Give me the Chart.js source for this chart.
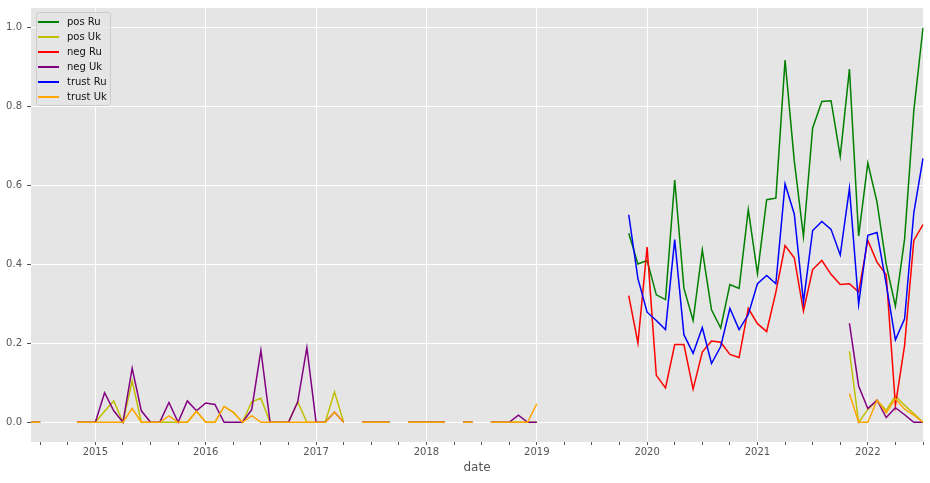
<!DOCTYPE html>
<html>
<head>
<meta charset="utf-8">
<script src="https://cdn.jsdelivr.net/npm/chart.js@4.4.1/dist/chart.umd.min.js"></script>
<style>
    body { margin: 0; background: #fff; }
    #wrap { position: relative; width: 930px; height: 483px; }
    #legenda {
        position: absolute; left: 36px; top: 12px; width: 75px; height: 94px;
        box-sizing: border-box; padding: 1px 0;
        background: rgba(229, 229, 229, 0.8); border: 1px solid #cccccc; border-radius: 3px;
    }
    .item { height: 15px; display: flex; align-items: center; }
    .item .traco { display: block; width: 21px; height: 0; border-top: 2px solid; margin-left: 1px; margin-right: 8px; }
    .item .nome { font: 10px "DejaVu Sans", sans-serif; color: #111; white-space: nowrap; }
</style>
</head>
<body>
<div id="wrap">
    <canvas id="grafico" width="930" height="483"></canvas>
    <div id="legenda"></div>
</div>
<script>
// meses de 2014-06 a 2022-07
const meses = [
    "2014-06", "2014-07", "2014-08", "2014-09", "2014-10", "2014-11", "2014-12",
    "2015-01", "2015-02", "2015-03", "2015-04", "2015-05", "2015-06", "2015-07", "2015-08", "2015-09", "2015-10", "2015-11", "2015-12",
    "2016-01", "2016-02", "2016-03", "2016-04", "2016-05", "2016-06", "2016-07", "2016-08", "2016-09", "2016-10", "2016-11", "2016-12",
    "2017-01", "2017-02", "2017-03", "2017-04", "2017-05", "2017-06", "2017-07", "2017-08", "2017-09", "2017-10", "2017-11", "2017-12",
    "2018-01", "2018-02", "2018-03", "2018-04", "2018-05", "2018-06", "2018-07", "2018-08", "2018-09", "2018-10", "2018-11", "2018-12",
    "2019-01", "2019-02", "2019-03", "2019-04", "2019-05", "2019-06", "2019-07", "2019-08", "2019-09", "2019-10", "2019-11", "2019-12",
    "2020-01", "2020-02", "2020-03", "2020-04", "2020-05", "2020-06", "2020-07", "2020-08", "2020-09", "2020-10", "2020-11", "2020-12",
    "2021-01", "2021-02", "2021-03", "2021-04", "2021-05", "2021-06", "2021-07", "2021-08", "2021-09", "2021-10", "2021-11", "2021-12",
    "2022-01", "2022-02", "2022-03", "2022-04", "2022-05", "2022-06", "2022-07"
];

const ticksY = [0, 0.2, 0.4, 0.6, 0.8, 1.0];

// Uk: 2014-06 ate 2019-01
const posUkInicio = [
    0, 0, null, null, null, 0, 0,
    0, 0.028, 0.054, 0, 0.105, 0, 0, 0, 0, 0, 0, 0.028,
    0, 0, 0.04, 0.025, 0, 0.052, 0.061, 0, 0, 0, 0.052, 0,
    0, 0, 0.077, 0, null, 0, 0, 0, 0, null, 0, 0,
    0, 0, 0, null, 0, 0, null, 0, 0, 0, 0, 0,
    0
];
const negUkInicio = [
    0, 0, null, null, null, 0, 0,
    0, 0.075, 0.029, 0, 0.137, 0.029, 0, 0, 0.05, 0, 0.054, 0.029,
    0.049, 0.045, 0, 0, 0, 0.032, 0.182, 0, 0, 0, 0.051, 0.189,
    0, 0, 0.026, 0, null, 0, 0, 0, 0, null, 0, 0,
    0, 0, 0, null, 0, 0, null, 0, 0, 0, 0.018, 0,
    0
];
const trustUkInicio = [
    0, 0, null, null, null, 0, 0,
    0, 0, 0, 0, 0.035, 0, 0, 0, 0.016, 0, 0, 0.028,
    0, 0, 0.04, 0.025, 0, 0.017, 0, 0, 0, 0, 0, 0,
    0, 0, 0.026, 0, null, 0, 0, 0, 0, null, 0, 0,
    0, 0, 0, null, 0, 0, null, 0, 0, 0, 0, 0,
    0.047
];

// Uk: 2021-11 ate 2022-07
const posUkFim = [0.18, 0, 0.032, 0.056, 0.03, 0.067, 0.043, 0.022, 0];
const negUkFim = [0.251, 0.092, 0.035, 0.056, 0.012, 0.037, 0.019, 0, 0];
const trustUkFim = [0.073, 0, 0, 0.056, 0.024, 0.06, 0.033, 0.018, 0];

// Ru: 2019-11 ate 2022-07
const posRu = [
    0.479, 0.401,
    0.41, 0.323, 0.311, 0.614, 0.34, 0.258, 0.437, 0.285, 0.239, 0.349, 0.339, 0.539,
    0.377, 0.564, 0.568, 0.918, 0.663, 0.471, 0.746, 0.813, 0.815, 0.674, 0.895, 0.472,
    0.657, 0.558, 0.40, 0.294, 0.465, 0.79, 1.0
];
const negRu = [
    0.321, 0.201,
    0.444, 0.119, 0.087, 0.197, 0.197, 0.084, 0.178, 0.206, 0.203, 0.172, 0.164, 0.289,
    0.25, 0.23, 0.33, 0.448, 0.417, 0.282, 0.387, 0.41, 0.375, 0.349, 0.351, 0.33,
    0.461, 0.406, 0.374, 0.043, 0.195, 0.461, 0.501
];
const trustRu = [
    0.526, 0.364,
    0.279, 0.258, 0.235, 0.463, 0.222, 0.175, 0.24, 0.149, 0.192, 0.289, 0.235, 0.273,
    0.351, 0.372, 0.351, 0.604, 0.528, 0.305, 0.486, 0.509, 0.489, 0.424, 0.593, 0.299,
    0.474, 0.481, 0.35, 0.209, 0.262, 0.531, 0.669
];

const mesesUkInicio = meses.slice(0, 56);
const mesesUkFim = meses.slice(89);
const mesesRu = meses.slice(65);

function pontos(ms, valores) {
    return ms.map((m, i) => ({ x: m, y: valores[i] }));
}

function serieUk(inicio, fim) {
    return pontos(mesesUkInicio, inicio).concat([{ x: "2019-02", y: null }], pontos(mesesUkFim, fim));
}

const series = [
    { label: "pos Ru", cor: "#008000", dados: pontos(mesesRu, posRu) },
    { label: "pos Uk", cor: "#bfbf00", dados: serieUk(posUkInicio, posUkFim) },
    { label: "neg Ru", cor: "#ff0000", dados: pontos(mesesRu, negRu) },
    { label: "neg Uk", cor: "#800080", dados: serieUk(negUkInicio, negUkFim) },
    { label: "trust Ru", cor: "#0000ff", dados: pontos(mesesRu, trustRu) },
    { label: "trust Uk", cor: "#ffa500", dados: serieUk(trustUkInicio, trustUkFim) }
];

// legenda em html
const legenda = document.getElementById("legenda");
series.forEach((s) => {
    legenda.innerHTML += '<div class="item"><span class="traco" style="border-top-color:' + s.cor + '"></span><span class="nome">' + s.label + '</span></div>';
});

// fundo cinza da area do grafico
const fundoCinza = {
    id: "fundoCinza",
    beforeDraw(chart) {
        const { ctx, chartArea: a } = chart;
        ctx.save();
        ctx.fillStyle = "#e5e5e5";
        ctx.fillRect(a.left, a.top, a.right - a.left, a.bottom - a.top);
        ctx.restore();
    }
};

const ehJaneiro = (i) => meses[i] && meses[i].endsWith("-01");
const ehTrimestre = (i) => meses[i] && ["01", "04", "07", "10"].includes(meses[i].slice(5));

const ctx = document.getElementById("grafico").getContext("2d");
const myChart = new Chart(ctx, {
    type: "line",
    data: {
        labels: meses,
        datasets: series.map((s, i) => ({
            label: s.label,
            data: s.dados,
            borderColor: s.cor,
            backgroundColor: s.cor,
            borderWidth: 1.5,
            pointRadius: 0,
            tension: 0,
            spanGaps: false,
            order: series.length - i
        }))
    },
    options: {
        responsive: false,
        animation: false,
        devicePixelRatio: 1,
        layout: { padding: { left: 0, right: 7, top: 8, bottom: 0 } },
        plugins: {
            legend: { display: false },
            tooltip: { enabled: false }
        },
        scales: {
            x: {
                type: "category",
                offset: false,
                border: { display: false },
                grid: {
                    color: (c) => ehJaneiro(c.index) ? "#ffffff" : "rgba(0,0,0,0)",
                    lineWidth: 1,
                    tickColor: (c) => ehTrimestre(c.index) ? "#555555" : "rgba(0,0,0,0)",
                    tickLength: 3
                },
                ticks: {
                    autoSkip: false,
                    maxRotation: 0,
                    minRotation: 0,
                    padding: 1,
                    color: "#555555",
                    font: { family: "DejaVu Sans", size: 10 },
                    callback: (valor, indice) => ehJaneiro(indice) ? meses[indice].slice(0, 4) : ""
                },
                title: {
                    display: true,
                    text: "date",
                    color: "#555555",
                    font: { family: "DejaVu Sans", size: 12 },
                    padding: { top: 0, bottom: 8 }
                },
                afterFit: (scale) => { scale.height = 41; }
            },
            y: {
                min: -0.05,
                max: 1.05,
                border: { display: false },
                grid: { color: "#ffffff", lineWidth: 1, tickColor: "#555555", tickLength: 4 },
                ticks: {
                    padding: 5,
                    color: "#555555",
                    font: { family: "DejaVu Sans", size: 10 },
                    callback: (valor) => valor.toFixed(1)
                },
                afterBuildTicks: (scale) => { scale.ticks = ticksY.map((v) => ({ value: v })); },
                afterFit: (scale) => {
                    scale.width = 31;
                    scale.paddingTop = 0;
                    scale.paddingBottom = 0;
                }
            }
        }
    },
    plugins: [fundoCinza]
});
</script>
</body>
</html>
